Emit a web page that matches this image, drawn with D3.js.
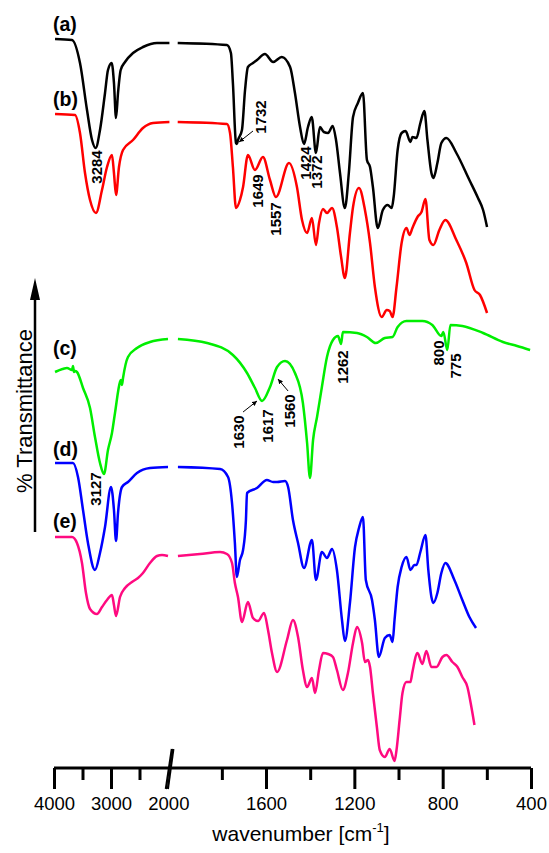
<!DOCTYPE html>
<html>
<head>
<meta charset="utf-8">
<script src="https://cdn.jsdelivr.net/npm/d3@7"></script>
<style>
  body { margin: 0; background: #fff; }
  svg { display: block; }
  text { font-family: Arial, "Liberation Sans", sans-serif; fill: #000; }
</style>
</head>
<body>
<div id="chart"></div>
<script>
// spectra: [wavenumber cm-1, stacked transmittance (arb. units)]
// each spectrum is split in the 4000-2000 part (compressed) and the 2000-400 part
var aHigh = [[3982,729],[3684,728],[3544,705],[3421,658],[3333,628],[3269,620],[3193,638],[3105,675],[3053,698],[2988,705],[2948,685],[2912,650],[2877,675],[2830,698],[2754,706],[2614,715],[2439,721],[2193,725],[1975,725]];
var aLow = [[2000,725],[1777,723],[1759,715],[1750,685],[1736,625],[1732,624],[1727,628],[1709,638],[1695,678],[1682,701],[1659,705],[1641,708],[1605,714],[1568,706],[1529,711],[1491,701],[1469,675],[1446,641],[1428,624],[1410,641],[1393,651],[1374,615],[1356,641],[1338,636],[1319,635],[1298,642],[1283,628],[1265,595],[1243,560],[1225,595],[1206,651],[1184,665],[1161,675],[1143,608],[1129,601],[1116,581],[1094,540],[1071,558],[1049,563],[1031,560],[1022,571],[1004,618],[986,635],[968,637],[946,626],[937,631],[919,630],[901,645],[883,657],[869,628],[851,595],[842,590],[824,605],[806,625],[783,630],[738,615],[679,588],[640,570],[617,558],[599,541]];

var bHigh = [[3982,654],[3632,653],[3544,635],[3456,595],[3368,568],[3263,555],[3158,578],[3070,601],[2983,613],[2948,595],[2912,573],[2860,601],[2789,618],[2614,628],[2439,640],[2263,645],[1975,646]];
var bLow = [[2000,646],[1777,644],[1763,635],[1750,601],[1736,560],[1718,568],[1704,581],[1682,613],[1650,598],[1614,611],[1582,588],[1555,571],[1496,605],[1460,581],[1437,548],[1414,535],[1392,550],[1374,523],[1360,545],[1342,559],[1324,555],[1301,560],[1279,541],[1260,511],[1243,490],[1220,535],[1206,561],[1179,580],[1152,558],[1129,525],[1107,481],[1076,451],[1053,458],[1040,457],[1027,451],[1009,481],[986,525],[964,540],[950,533],[937,540],[914,551],[896,556],[878,569],[860,528],[842,523],[815,538],[788,548],[738,528],[693,505],[656,478],[631,473],[599,455]];

var cHigh = [[3982,396],[3850,399],[3772,400],[3684,398],[3667,402],[3650,396],[3632,397],[3597,396],[3491,380],[3368,360],[3281,331],[3193,305],[3123,294],[3053,318],[2983,335],[2930,355],[2842,386],[2825,388],[2807,383],[2789,390],[2702,411],[2544,420],[2316,426],[2000,429]];
var cLow = [[1999,429],[1867,425],[1750,413],[1686,395],[1650,380],[1618,367],[1582,381],[1550,401],[1514,407],[1469,395],[1433,365],[1414,325],[1401,290],[1387,328],[1369,351],[1347,381],[1324,411],[1297,428],[1274,432],[1260,424],[1252,436],[1188,435],[1143,431],[1103,425],[1062,430],[1027,431],[1004,441],[964,447],[892,447],[847,443],[806,432],[797,436],[779,418],[765,443],[711,442],[617,435],[527,426],[463,422],[404,418]];

var dHigh = [[3982,305],[3667,305],[3579,291],[3491,258],[3404,225],[3281,198],[3193,215],[3105,241],[3000,281],[2948,258],[2912,227],[2877,255],[2807,281],[2702,286],[2544,295],[2316,300],[2000,301]];
var dLow = [[1999,301],[1808,299],[1772,291],[1754,265],[1741,225],[1732,191],[1718,208],[1704,218],[1691,248],[1686,275],[1641,280],[1596,288],[1568,286],[1550,286],[1514,287],[1500,281],[1478,248],[1455,225],[1428,200],[1392,228],[1374,188],[1347,216],[1324,210],[1301,219],[1279,198],[1256,148],[1243,127],[1220,165],[1197,221],[1179,240],[1161,251],[1148,188],[1120,168],[1107,148],[1089,111],[1062,130],[1040,133],[1027,126],[1018,148],[1004,181],[986,201],[964,211],[946,198],[928,203],[919,203],[901,216],[878,233],[865,198],[851,171],[842,165],[824,175],[806,195],[788,205],[747,188],[711,168],[679,151],[649,140]];

var eHigh = [[3982,231],[3684,231],[3597,225],[3509,205],[3439,175],[3368,159],[3246,154],[3158,161],[3070,168],[2983,173],[2948,163],[2912,152],[2842,171],[2754,180],[2632,186],[2526,190],[2439,195],[2316,205],[2193,212],[2105,213],[2000,212]];
var eLow = [[1999,212],[1899,214],[1808,216],[1777,214],[1754,205],[1741,185],[1727,171],[1709,146],[1682,166],[1659,150],[1636,147],[1609,155],[1591,138],[1573,115],[1550,96],[1505,128],[1478,148],[1455,131],[1433,98],[1414,81],[1392,90],[1378,75],[1360,98],[1342,115],[1319,114],[1297,111],[1279,98],[1252,78],[1229,95],[1206,125],[1188,141],[1165,125],[1152,106],[1138,108],[1129,101],[1116,75],[1098,41],[1085,18],[1062,11],[1040,19],[1018,7],[1009,18],[995,48],[982,75],[964,86],[946,86],[937,96],[914,115],[892,104],[874,117],[851,101],[828,101],[801,111],[783,113],[756,106],[733,101],[711,91],[688,81],[670,61],[656,43]];

var traceNames = ["(a)", "(b)", "(c)", "(d)", "(e)"];
var traceColors = ["#000000", "#ff0000", "#00ee00", "#0000ff", "#ff0a80"];
var traceLabelT = [737, 662, 413, 312, 240];

var tickMajorHigh = [4000, 3000];
var tickMinorHigh = [3500, 2500];
var tickMajorLow = [1600, 1200, 800, 400];
var tickMinorLow = [1800, 1400, 1000, 600];
var breakAt = 2000;

// peak labels: text, wavenumber and level of the label centre
var peakLabels = [
  ["3284", 3255, 601], ["1732", 1623, 651], ["1649", 1639, 577], ["1557", 1555, 549],
  ["1424", 1423, 605], ["1372", 1369, 596], ["3127", 3263, 279], ["1630", 1722, 336],
  ["1617", 1593, 342], ["1560", 1494, 357], ["1262", 1254, 401], ["800", 817, 415],
  ["775", 740, 402]
];
// little arrows: [from wn, from T, to wn, to T]
var peakArrows = [[1659, 637, 1722, 626], [1704, 356, 1641, 367], [1500, 377, 1546, 389]];

var width = 549, height = 853;

var xHigh = d3.scaleLinear().domain([4000, 2000]).range([54, 168]);
var xLow  = d3.scaleLinear().domain([2000, 400]).range([177.7, 531]);
var y = d3.scaleLinear().domain([0, 768]).range([768, 0]);

var svg = d3.select("#chart").append("svg")
    .attr("width", width)
    .attr("height", height);

svg.append("defs").append("marker")
    .attr("id", "tip")
    .attr("viewBox", "0 -5 10 10")
    .attr("refX", 10)
    .attr("refY", 0)
    .attr("markerWidth", 5)
    .attr("markerHeight", 5)
    .attr("markerUnits", "userSpaceOnUse")
    .attr("orient", "auto")
    .append("path")
    .attr("d", "M0,-5L10,0L0,5Z")
    .attr("fill", "#000");

var lineHigh = d3.line().x(function(d) { return xHigh(d[0]); }).y(function(d) { return y(d[1]); }).curve(d3.curveMonotoneX);
var lineLow  = d3.line().x(function(d) { return xLow(d[0]); }).y(function(d) { return y(d[1]); }).curve(d3.curveMonotoneX);

var spectra = [[aHigh, aLow], [bHigh, bLow], [cHigh, cLow], [dHigh, dLow], [eHigh, eLow]];

var g = svg.append("g").attr("class", "spectra");
spectra.forEach(function(s, i) {
  g.append("path").datum(s[0])
    .attr("d", lineHigh)
    .attr("fill", "none")
    .attr("stroke", traceColors[i])
    .attr("stroke-width", 2.5)
    .attr("stroke-linejoin", "round");
  g.append("path").datum(s[1])
    .attr("d", lineLow)
    .attr("fill", "none")
    .attr("stroke", traceColors[i])
    .attr("stroke-width", 2.5)
    .attr("stroke-linejoin", "round");
});

// trace names
svg.append("g").selectAll("text")
  .data(traceNames)
  .enter().append("text")
  .attr("x", xHigh(4000) - 1)
  .attr("y", function(d, i) { return y(traceLabelT[i]); })
  .attr("font-size", 19.5)
  .attr("font-weight", "bold")
  .text(function(d) { return d; });

// peak labels (rotated)
function px(wn) { return wn > breakAt ? xHigh(wn) : xLow(wn); }

svg.append("g").selectAll("text")
  .data(peakLabels)
  .enter().append("text")
  .attr("transform", function(d) { return "translate(" + px(d[1]) + "," + y(d[2]) + ") rotate(-90)"; })
  .attr("text-anchor", "middle")
  .attr("dy", "0.36em")
  .attr("font-size", 15)
  .attr("font-weight", "bold")
  .text(function(d) { return d[0]; });

svg.append("g").selectAll("line")
  .data(peakArrows)
  .enter().append("line")
  .attr("x1", function(d) { return px(d[0]); })
  .attr("y1", function(d) { return y(d[1]); })
  .attr("x2", function(d) { return px(d[2]); })
  .attr("y2", function(d) { return y(d[3]); })
  .attr("stroke", "#000")
  .attr("stroke-width", 1)
  .attr("marker-end", "url(#tip)");

// x axis
var axisY = y(0);
var ax = svg.append("g").attr("class", "x-axis");
ax.append("line")
  .attr("x1", xHigh(4000)).attr("x2", xLow(400))
  .attr("y1", axisY).attr("y2", axisY)
  .attr("stroke", "#000").attr("stroke-width", 3);

function drawAxis(scale, major, minor) {
  var maj = d3.axisBottom(scale).tickValues(major).tickSize(21).tickPadding(8).tickFormat(d3.format("d"));
  var min = d3.axisBottom(scale).tickValues(minor).tickSize(12).tickFormat("");
  var gm = ax.append("g").attr("transform", "translate(0," + axisY + ")").call(maj);
  var gn = ax.append("g").attr("transform", "translate(0," + axisY + ")").call(min);
  [gm, gn].forEach(function(a) {
    a.select(".domain").remove();
    a.selectAll(".tick line").attr("stroke", "#000").attr("stroke-width", 3);
  });
  gm.selectAll(".tick text")
    .attr("font-family", "Arial, 'Liberation Sans', sans-serif")
    .attr("font-size", 18.5)
    .attr("fill", "#000");
}
drawAxis(xHigh, tickMajorHigh, tickMinorHigh);
drawAxis(xLow, tickMajorLow, tickMinorLow);

// axis break mark at 2000
var bx = (xHigh(breakAt) + xLow(breakAt)) / 2 - 4;
ax.append("path")
  .attr("d", "M" + (bx - 3) + "," + (axisY + 21) + "L" + (bx + 3) + "," + (axisY - 19))
  .attr("stroke", "#000").attr("stroke-width", 2.2).attr("fill", "none");
ax.append("path")
  .attr("d", "M" + (bx - 1) + "," + (axisY + 21) + "L" + (bx + 4.5) + "," + (axisY - 19))
  .attr("stroke", "#000").attr("stroke-width", 2.2).attr("fill", "none");
ax.append("text")
  .attr("x", bx)
  .attr("y", axisY + 21 + 8)
  .attr("dy", "0.71em")
  .attr("text-anchor", "middle")
  .attr("font-size", 18.5)
  .text(breakAt);

var title = svg.append("text")
  .attr("x", 301)
  .attr("y", 841)
  .attr("text-anchor", "middle")
  .attr("font-size", 21);
title.append("tspan").text("wavenumber [cm");
title.append("tspan").attr("font-size", 13).attr("dy", -9).text("-1");
title.append("tspan").attr("dy", 9).text("]");

// y axis arrow
svg.append("line")
  .attr("x1", 35).attr("x2", 35)
  .attr("y1", y(236)).attr("y2", y(470))
  .attr("stroke", "#000").attr("stroke-width", 2.5);
svg.append("path")
  .attr("d", "M35," + y(490) + "L40," + y(468) + "L30," + y(468) + "Z")
  .attr("fill", "#000");
svg.append("text")
  .attr("transform", "translate(32," + 411 + ") rotate(-90)")
  .attr("text-anchor", "middle")
  .attr("font-size", 22)
  .text("% Transmittance");
</script>
</body>
</html>
